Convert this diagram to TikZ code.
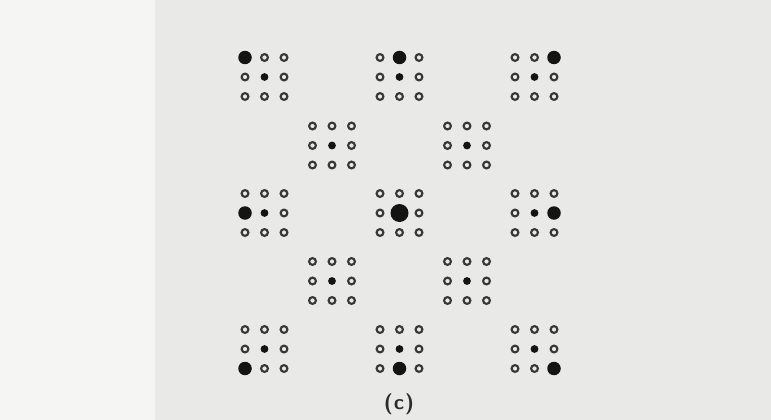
\documentclass[tikz,border=0pt]{standalone}
\definecolor{bgA}{RGB}{245,245,244}
\definecolor{bgB}{RGB}{233,233,232}
\definecolor{ink}{RGB}{20,20,20}
\definecolor{ring}{RGB}{55,55,55}
\begin{document}
\begin{tikzpicture}[x=1pt,y=-1pt,
  odot/.style={circle,draw=ring,line width=2.1pt,minimum size=6.8pt,inner sep=0pt},
  sdot/.style={circle,fill=ink,minimum size=7.8pt,inner sep=0pt},
  bdot/.style={circle,fill=ink,minimum size=13.5pt,inner sep=0pt},
  hdot/.style={circle,fill=ink,minimum size=18pt,inner sep=0pt}]
\fill[bgA] (0,0) rectangle (155,420);
\fill[bgB] (155,0) rectangle (771,420);
\useasboundingbox (0,0) rectangle (771,420);
% outer clusters
\foreach \i in {0,1,2}{
 \foreach \j in {0,1,2}{
  \foreach \a in {0,1,2}{
   \foreach \b in {0,1,2}{
    \pgfmathtruncatemacro{\isbig}{and(\a==\i,\b==\j)}
    \pgfmathtruncatemacro{\iscen}{and(\a==1,\b==1)}
    \ifnum\isbig=1
      \ifnum\iscen=1
        \node[hdot] (o\i\j\a\b) at ({399.5+135*(\i-1)+19.5*(\a-1)},{213+136*(\j-1)+19.5*(\b-1)}) {};
      \else
        \node[bdot] (o\i\j\a\b) at ({399.5+135*(\i-1)+19.5*(\a-1)},{213+136*(\j-1)+19.5*(\b-1)}) {};
      \fi
    \else
      \ifnum\iscen=1
        \node[sdot] (o\i\j\a\b) at ({399.5+135*(\i-1)+19.5*(\a-1)},{213+136*(\j-1)+19.5*(\b-1)}) {};
      \else
        \node[odot] (o\i\j\a\b) at ({399.5+135*(\i-1)+19.5*(\a-1)},{213+136*(\j-1)+19.5*(\b-1)}) {};
      \fi
    \fi
   }
  }
 }
}
% inner clusters
\foreach \i in {0,1}{
 \foreach \j in {0,1}{
  \foreach \a in {0,1,2}{
   \foreach \b in {0,1,2}{
    \pgfmathtruncatemacro{\iscen}{and(\a==1,\b==1)}
    \ifnum\iscen=1
      \node[sdot] (n\i\j\a\b) at ({332+135*\i+19.5*(\a-1)},{145.5+135.5*\j+19.5*(\b-1)}) {};
    \else
      \node[odot] (n\i\j\a\b) at ({332+135*\i+19.5*(\a-1)},{145.5+135.5*\j+19.5*(\b-1)}) {};
    \fi
   }
  }
 }
}
\node[font=\sffamily\bfseries\fontsize{21}{21}\selectfont,text=ink!90] (lbl) at (399,404) {(\kern1pt c\kern1pt)};
\end{tikzpicture}
\end{document}
